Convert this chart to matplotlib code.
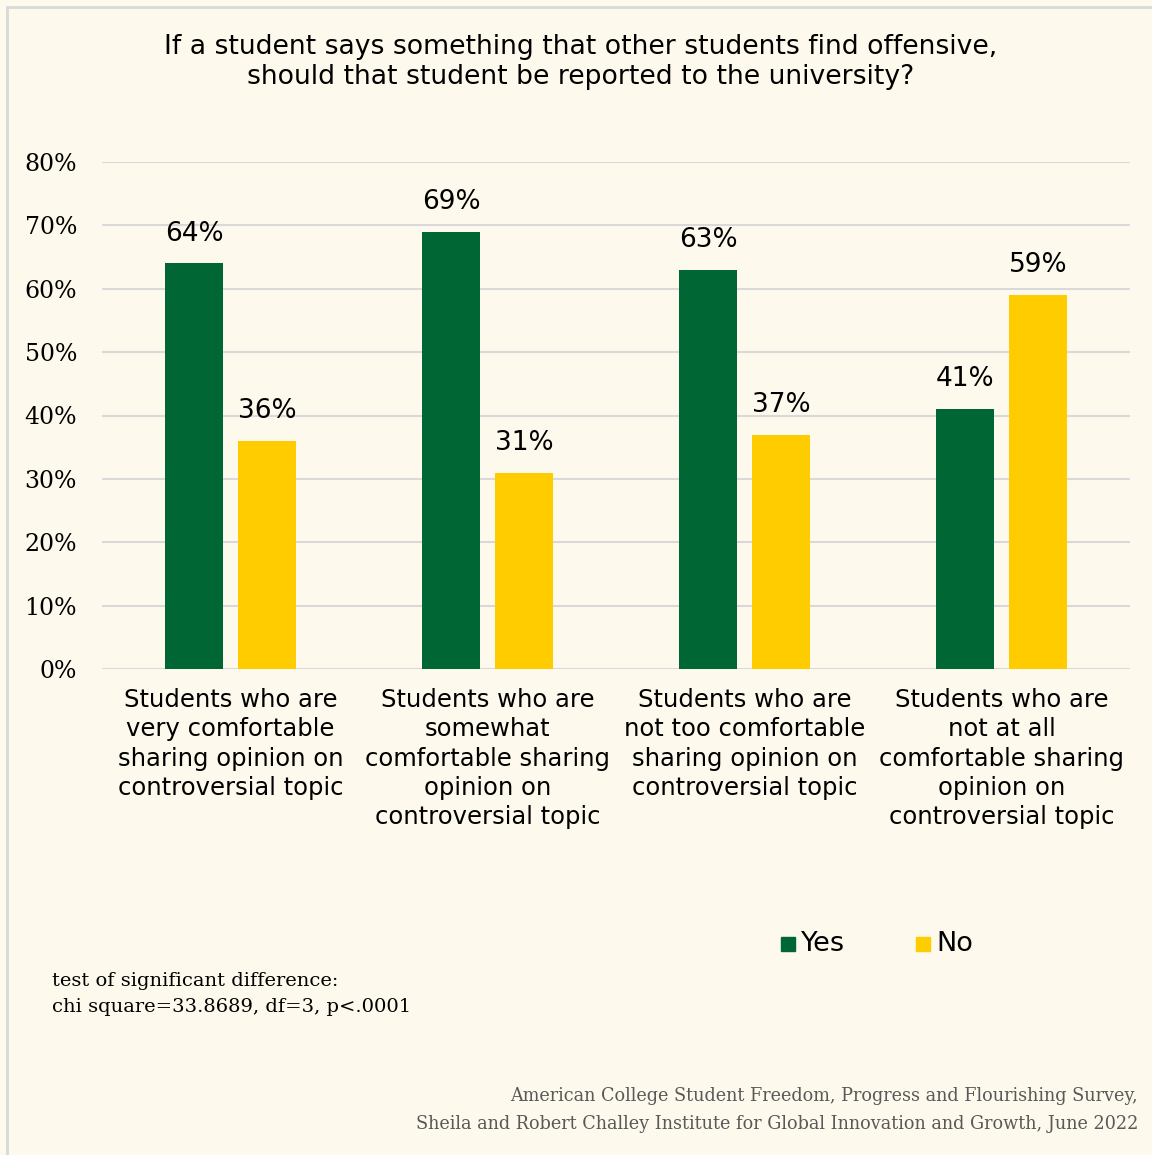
import matplotlib
matplotlib.use('Agg')
import matplotlib.pyplot as plt
from matplotlib.lines import Line2D
from matplotlib.patches import Rectangle

# survey results, percent of respondents
categories = [
    "Students who are\nvery comfortable\nsharing opinion on\ncontroversial topic",
    "Students who are\nsomewhat\ncomfortable sharing\nopinion on\ncontroversial topic",
    "Students who are\nnot too comfortable\nsharing opinion on\ncontroversial topic",
    "Students who are\nnot at all\ncomfortable sharing\nopinion on\ncontroversial topic",
]
yes_vals = [64, 69, 63, 41]
no_vals = [36, 31, 37, 59]
series_names = ["Yes", "No"]
y_ticks = [0, 10, 20, 30, 40, 50, 60, 70, 80]

title = ("If a student says something that other students find offensive,\n"
         "should that student be reported to the university?")
note = "test of significant difference:\nchi square=33.8689, df=3, p<.0001"
source = ("American College Student Freedom, Progress and Flourishing Survey,\n"
          "Sheila and Robert Challey Institute for Global Innovation and Growth, June 2022")

BG = '#fdf9ec'
GREEN = '#006633'
YELLOW = '#ffcc00'
GRID = '#d9d9d9'
SANS = 'DejaVu Sans'
SERIF = 'DejaVu Serif'

W, H = 1152, 1155
fig = plt.figure(figsize=(W / 100, H / 100), dpi=100, facecolor=BG)

def px(x, y):
    # pixel coords (top-left origin) -> figure fraction
    return x / W, 1 - y / H

# frame lines along the top and left edges
fig.add_artist(Line2D([7 / W, 7 / W], [0, 1 - 7 / H], color=GRID, lw=2))
fig.add_artist(Line2D([7 / W, 1], [1 - 7 / H, 1 - 7 / H], color=GRID, lw=2))

ax_l, ax_r, ax_t, ax_b = 102, 1130, 162, 669
ax = fig.add_axes([ax_l / W, 1 - ax_b / H, (ax_r - ax_l) / W, (ax_b - ax_t) / H])
ax.set_facecolor(BG)

bw = 0.222
off = 0.142
xs = range(len(categories))
bars_yes = ax.bar([x - off for x in xs], yes_vals, width=bw, color=GREEN, zorder=3)
bars_no = ax.bar([x + off for x in xs], no_vals, width=bw, color=YELLOW, zorder=3)

for bars, vals in ((bars_yes, yes_vals), (bars_no, no_vals)):
    for b, v in zip(bars, vals):
        ax.annotate(f"{v}%", (b.get_x() + b.get_width() / 2, v),
                    xytext=(0, 12), textcoords='offset points',
                    ha='center', va='bottom', fontsize=19, family=SANS, color='#000000')

ax.set_xlim(-0.5, len(categories) - 0.5)
ax.set_ylim(0, 80)
ax.set_yticks(y_ticks)
ax.set_yticklabels([f"{t}%" for t in y_ticks], family=SERIF, fontsize=17)
ax.tick_params(axis='y', length=0, pad=18)
ax.set_xticks([])
ax.grid(axis='y', color=GRID, lw=1.5, zorder=0)
for s in ax.spines.values():
    s.set_visible(False)
ax.axhline(0, color=GRID, lw=2, zorder=2)

# category labels, one line at a time
for i, lab in enumerate(categories):
    xf = (ax_l + (i + 0.5) * (ax_r - ax_l) / len(categories)) / W
    for j, line in enumerate(lab.split("\n")):
        fig.text(xf, 1 - (700 + 29.3 * j) / H, line, ha='center', va='center',
                 fontsize=17.5, family=SANS, color='#000000')

fig.text(*px(581, 62), title, ha='center', va='center', fontsize=19.2,
         family=SANS, linespacing=1.15)

# legend
for (x0, name, col) in ((781, series_names[0], GREEN), (916, series_names[1], YELLOW)):
    fig.add_artist(Rectangle(px(x0, 951), 14 / W, 14 / H, color=col))
    fig.text(*px(x0 + 20, 944), name, ha='left', va='center', fontsize=19.5, family=SANS)

fig.text(*px(52, 994), note, ha='left', va='center', fontsize=14,
         family=SERIF, linespacing=1.6)
fig.text(*px(1138, 1110), source, ha='right', va='center', fontsize=12.7,
         family=SERIF, color='#595959', linespacing=1.7)

fig.savefig('out.png', dpi=100, facecolor=BG)
